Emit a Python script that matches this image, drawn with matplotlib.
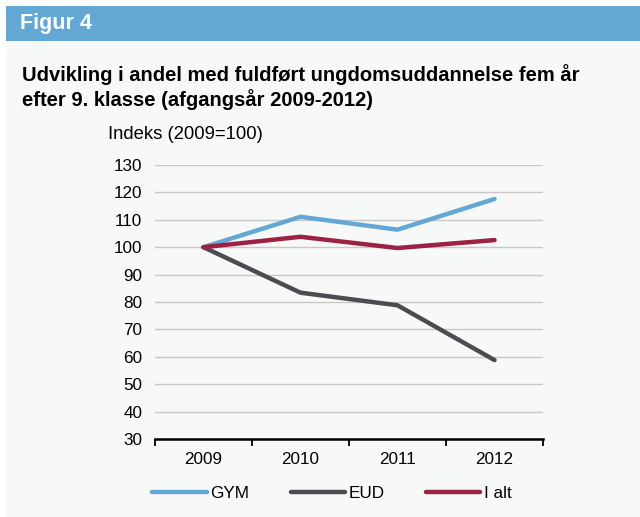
import matplotlib
matplotlib.use('Agg')
import matplotlib.pyplot as plt
from matplotlib.patches import Rectangle

years = ['2009', '2010', '2011', '2012']
gym = [100, 111.1, 106.4, 117.6]
eud = [100, 83.4, 78.8, 58.8]
i_alt = [100, 103.8, 99.7, 102.6]
y_ticks = [30, 40, 50, 60, 70, 80, 90, 100, 110, 120, 130]

W, H = 640, 517
plt.rcParams['font.family'] = ['Liberation Sans', 'DejaVu Sans']

fig = plt.figure(figsize=(W / 100, H / 100), dpi=100)
fig.patch.set_facecolor('white')

# panel background + blue header bar
fig.patches.append(Rectangle((6 / W, 0), 1 - 6 / W, 1 - 6 / H, transform=fig.transFigure,
                             facecolor='#f7f8f8', edgecolor='none', zorder=-2))
fig.patches.append(Rectangle((6 / W, 1 - 41 / H), 1 - 6 / W, 35 / H, transform=fig.transFigure,
                             facecolor='#63a8d4', edgecolor='none', zorder=-1))
fig.text(20 / W, 1 - 24 / H, 'Figur 4', color='white', fontsize=15.5, fontweight='bold',
         va='center', ha='left')
fig.text(22 / W, 1 - 75 / H, 'Udvikling i andel med fuldført ungdomsuddannelse fem år',
         fontsize=14.5, fontweight='bold', va='center', ha='left')
fig.text(22 / W, 1 - 100 / H, 'efter 9. klasse (afgangsår 2009-2012)',
         fontsize=14.5, fontweight='bold', va='center', ha='left')
fig.text(108 / W, 1 - 135 / H, 'Indeks (2009=100)', fontsize=13.3, va='center', ha='left')

ax = fig.add_axes([155 / W, 78 / H, (543 - 155) / W, (439 - 165) / H])
ax.set_facecolor('none')
x = range(len(years))
l1, = ax.plot(x, gym, color='#63a8d4', lw=3.2, solid_capstyle='round', solid_joinstyle='round', label='GYM')
l2, = ax.plot(x, eud, color='#4a4c50', lw=3.2, solid_capstyle='round', solid_joinstyle='round', label='EUD')
l3, = ax.plot(x, i_alt, color='#9b2243', lw=3.2, solid_capstyle='round', solid_joinstyle='round', label='I alt')

ax.set_ylim(30, 130)
ax.set_xlim(-0.5, len(years) - 0.5)
ax.set_yticks(y_ticks)
ax.tick_params(axis='y', length=0, labelsize=12.3, pad=9)
ax.grid(axis='y', color='#c8c8c8', lw=1)
ax.set_axisbelow(True)
ax.set_xticks(list(x))
ax.set_xticklabels(years)
ax.set_xticks([i - 0.5 for i in range(len(years) + 1)], minor=True)
ax.tick_params(axis='x', which='major', length=0, labelsize=12.3, pad=9)
ax.tick_params(axis='x', which='minor', length=5, width=1.3, direction='out')
for s in ['left', 'right', 'top']:
    ax.spines[s].set_visible(False)
ax.spines['bottom'].set_linewidth(1.8)
ax.spines['bottom'].set_zorder(5)

fig.legend(handles=[l1, l2, l3], loc='center', bbox_to_anchor=(332 / W, 1 - 493 / H),
           ncol=3, frameon=False, fontsize=12.3, handlelength=3.2, handletextpad=0.2,
           columnspacing=2.4)

fig.savefig('out.png', dpi=100)
